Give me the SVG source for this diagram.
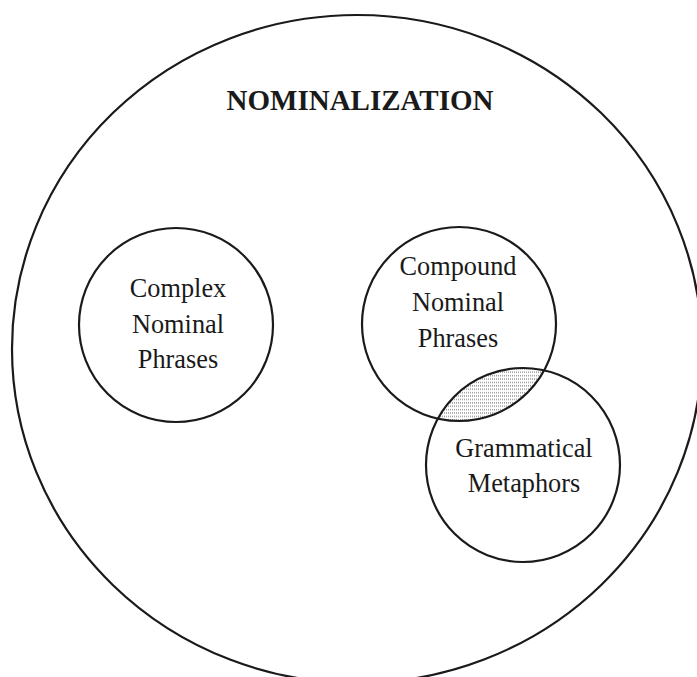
<svg xmlns="http://www.w3.org/2000/svg" width="697" height="677" viewBox="0 0 697 677">
<style>
.c{fill:none;stroke:#1a1a1a;stroke-width:2.2}
.t{font-family:"Liberation Serif","Times New Roman",serif;font-size:26.3px;fill:#1a1a1a;text-anchor:middle}
.h{font-family:"Liberation Serif","Times New Roman",serif;font-size:29px;font-weight:bold;fill:#1a1a1a;text-anchor:middle}
</style>
<defs>
<pattern id="dots" x="0" y="0" width="2" height="3.4" patternUnits="userSpaceOnUse">
<rect x="0" y="1.2" width="1" height="0.9" fill="#555"/>
</pattern>
<clipPath id="clipCompound"><circle cx="459" cy="324" r="97"/></clipPath>
</defs>
<g id="nominalization">
<ellipse class="c" cx="357" cy="349" rx="345" ry="334"/>
<text class="h" x="360" y="110">NOMINALIZATION</text>
</g>
<g id="overlap">
<circle cx="523" cy="465" r="97" fill="url(#dots)" clip-path="url(#clipCompound)"/>
</g>
<g id="complex">
<circle class="c" cx="176" cy="325" r="97"/>
<text class="t" x="178" y="297">Complex</text>
<text class="t" x="178" y="333">Nominal</text>
<text class="t" x="178" y="368">Phrases</text>
</g>
<g id="compound">
<circle class="c" cx="459" cy="324" r="97"/>
<text class="t" x="458" y="275">Compound</text>
<text class="t" x="458" y="311">Nominal</text>
<text class="t" x="458" y="347">Phrases</text>
</g>
<g id="grammatical">
<circle class="c" cx="523" cy="465" r="97"/>
<text class="t" x="524" y="457">Grammatical</text>
<text class="t" x="524" y="492">Metaphors</text>
</g>
<g id="connectors"></g>
</svg>
